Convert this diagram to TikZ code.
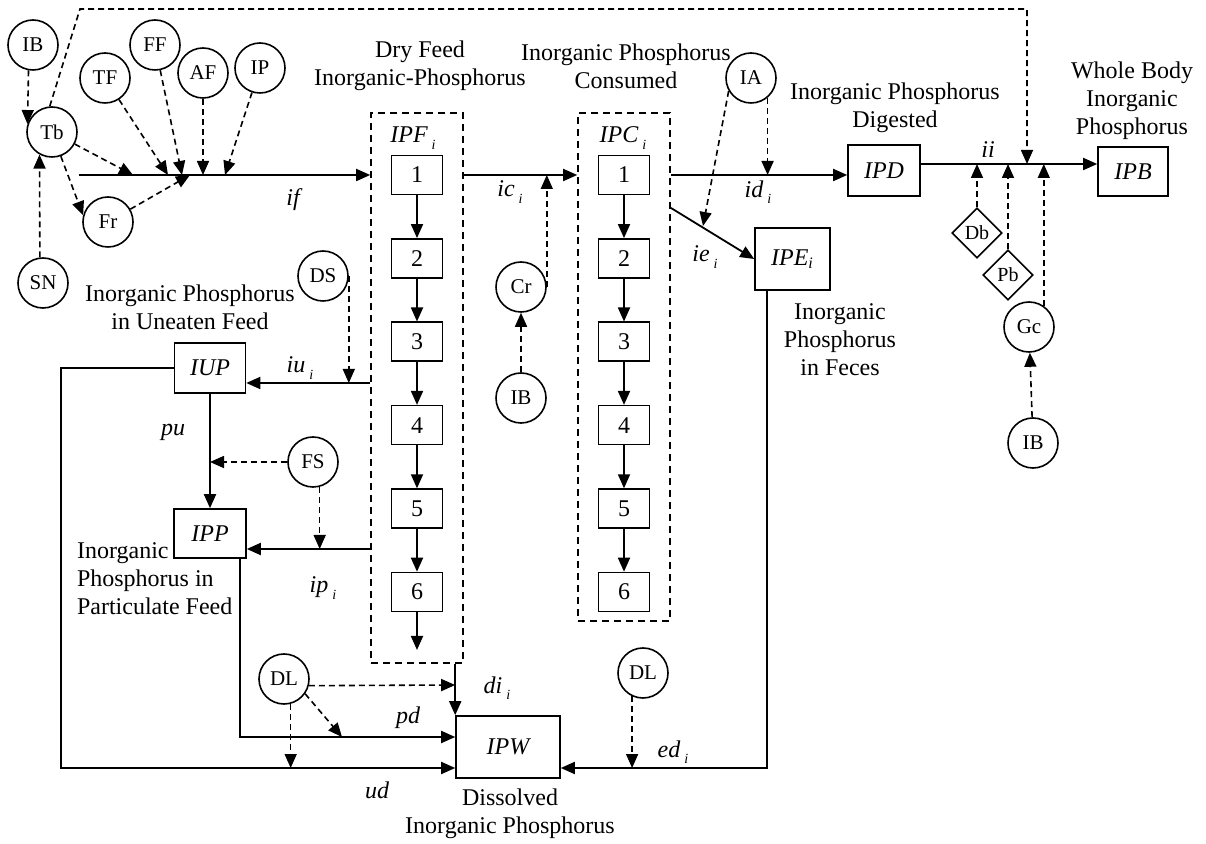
\documentclass[tikz,border=0pt]{standalone}
\usepackage{fontspec}
\setmainfont{Liberation Serif}
\usetikzlibrary{arrows.meta,shapes.geometric,calc}
\newcommand{\flowi}[1]{\textit{#1}\,\raisebox{-0.6ex}{\scriptsize\itshape i}}
\tikzset{
  var/.style={circle,draw,line width=0.8pt,minimum size=25pt,inner sep=0pt,font=\fontsize{10.5}{12}\selectfont},
  gate/.style={diamond,draw,line width=0.8pt,minimum size=25pt,inner sep=0pt,font=\fontsize{10}{12}\selectfont},
  pool/.style={rectangle,draw,line width=0.8pt,inner sep=0pt,font=\fontsize{12}{14}\selectfont\itshape},
  cell/.style={rectangle,draw,line width=0.8pt,minimum width=25.5pt,minimum height=19.5pt,inner sep=0pt},
  group/.style={rectangle,draw,line width=0.8pt,minimum width=46pt,dash pattern=on 3.5pt off 2.5pt},
  flow/.style={->,line width=0.9pt},
  ctrl/.style={->,line width=0.8pt,dash pattern=on 3pt off 2pt},
  lbl/.style={font=\fontsize{12}{14}\selectfont\itshape},
  note/.style={align=center,font=\fontsize{12}{14}\selectfont}
}
\begin{document}
\begin{tikzpicture}[x=0.5pt,y=-0.5pt,>={Triangle[length=7pt,width=6pt]},font=\fontsize{12}{14}\selectfont]
\useasboundingbox (0,0) rectangle (1206,844);
%compartments
\node[group,minimum height=275pt] (IPFbox) at (417,388) {};
\node[group,minimum height=254pt] (IPCbox) at (624,367) {};
\node[lbl] (IPFlbl) at (413,138) {\flowi{IPF}};
\node[lbl] (IPClbl) at (623,138) {\flowi{IPC}};
\foreach \k in {1,...,6}{
  \node[cell] (F\k) at (417,{175+83.4*(\k-1)}) {\k};
  \node[cell] (C\k) at (624,{175+83.4*(\k-1)}) {\k};
}
\foreach \k [count=\j from 2] in {1,...,5}{
  \draw[flow] (F\k.south) -- (F\j.north);
  \draw[flow] (C\k.south) -- (C\j.north);
}
\coordinate (dryE) at (417,650);
\draw[flow] (F6.south) -- (dryE);
%pools
\node[pool,minimum width=35.5pt,minimum height=25pt] (IUP) at (210,368) {IUP};
\node[pool,minimum width=36pt,minimum height=24.5pt] (IPP) at (210,533.5) {IPP};
\node[pool,minimum width=36pt,minimum height=25.5pt] (IPD) at (884,170.5) {IPD};
\node[pool,minimum width=35pt,minimum height=24.5pt] (IPB) at (1133,171.5) {IPB};
\node[pool,minimum width=37.5pt,minimum height=31pt] (IPE) at (792.5,259) {IPE\textsubscript{i}};
\node[pool,minimum width=52pt,minimum height=31pt] (IPW) at (508,747) {IPW};
%driving variables
\node[var] (IBa) at (33,45) {IB};
\node[var] (Tb) at (52,132) {Tb};
\node[var] (TF) at (105,78) {TF};
\node[var] (FF) at (155,45) {FF};
\node[var] (AF) at (203,73) {AF};
\node[var] (IP) at (260,68) {IP};
\node[var] (Fr) at (108,222) {Fr};
\node[var] (SN) at (43,283) {SN};
\node[var] (DS) at (323,276) {DS};
\node[var] (FS) at (313,462) {FS};
\node[var] (DLa) at (284,679) {DL};
\node[var] (Cr) at (521,287) {Cr};
\node[var] (IBb) at (521,398) {IB};
\node[var] (IA) at (751,78) {IA};
\node[var] (DLb) at (643,673) {DL};
\node[gate] (Db) at (977,233) {Db};
\node[gate] (Pb) at (1008,275) {Pb};
\node[var] (Gc) at (1029,327) {Gc};
\node[var] (IBc) at (1033,443) {IB};
%junctions
\coordinate (ifS) at (79,175);
\coordinate (jTb) at (133,175);
\coordinate (jTF) at (168,175);
\coordinate (jFF) at (182,175);
\coordinate (jFr) at (190,175);
\coordinate (jAF) at (203,175);
\coordinate (jIP) at (225,175);
\coordinate (fbA) at (80,9);
\coordinate (fbB) at (1027,9);
\coordinate (jfb) at (1027,164);
\coordinate (ieS) at (671,208);
\coordinate (jie) at (703,226);
\coordinate (iuS) at (IPFbox.west |- 0,383);
\coordinate (ipS) at (IPFbox.west |- 0,549);
\coordinate (udC) at (61,768);
\coordinate (udE) at (IPW.west |- udC);
\coordinate (pdE) at (IPW.west |- 0,737);
\coordinate (jpd) at (342,737);
\coordinate (diE) at (IPW.west |- 0,685);
\coordinate (edE) at (IPW.east |- udC);
%flows
\draw[flow] (ifS) -- (IPFbox.west |- ifS);
\draw[flow] (IPFbox.east |- F1) -- (IPCbox.west |- C1);
\draw[flow] (IPCbox.east |- C1) -- (IPD.west |- C1);
\draw[flow] (ieS) -- (IPE.west);
\draw[flow] (IPD.east |- jfb) -- (IPB.west |- jfb);
\draw[flow] (iuS) -- (IUP.east |- iuS);
\draw[flow] (ipS) -- (IPP.east |- ipS);
\draw[flow] (IUP.south) -- (IPP.north);
\draw[flow] (IUP.west) -| (udC) -- (udE);
\draw[flow] (IPP.320) |- (pdE);
\draw[flow] (IPFbox.south -| IPW.north west) -- (IPW.north west);
\draw[flow] (IPE.231) |- (edE);
%controls
\draw[ctrl] (IBa.260) -- (Tb.162);
\draw[ctrl] (SN.97) -- (Tb.241);
\draw[ctrl] (Tb) -- (jTb);
\draw[ctrl] (Tb.290) -- (Fr.165);
\draw[ctrl] (TF) -- (jTF);
\draw[ctrl] (FF) -- (jFF);
\draw[ctrl] (AF) -- (jAF);
\draw[ctrl] (IP) -- (jIP);
\draw[ctrl] (Fr) -- (jFr);
\draw[ctrl] (Tb.95) -- (fbA) -- (fbB) -- (jfb);
\draw[ctrl] (Cr.east) -- (Cr.east |- F1);
\draw[ctrl] (IBb) -- (Cr);
\draw[ctrl] (IA.310) -- (IA.310 |- C1);
\draw[ctrl] (IA.210) -- (jie);
\draw[ctrl] (Db.north) -- (Db.north |- jfb);
\draw[ctrl] (Pb.north) -- (Pb.north |- jfb);
\draw[ctrl] (Gc.55) -- (Gc.55 |- jfb);
\draw[ctrl] (IBc) -- (Gc);
\draw[ctrl] (DS.east) -- (DS.east |- iuS);
\draw[ctrl] (FS.west) -- (IUP.south |- FS.west);
\draw[ctrl] (FS.285) -- (FS.285 |- ipS);
\draw[ctrl] (DLa.345) -- (diE);
\draw[ctrl] (DLa.325) -- (jpd);
\draw[ctrl] (DLa.285) -- (DLa.285 |- udC);
\draw[ctrl] (DLb.245) -- (DLb.245 |- edE);
%flow labels
\node[lbl] (ifL) at (293,200) {if};
\node[lbl] (icL) at (510,192) {\flowi{ic}};
\node[lbl] (idL) at (758,192) {\flowi{id}};
\node[lbl] (ieL) at (705,257) {\flowi{ie}};
\node[lbl] (iiL) at (988,150) {ii};
\node[lbl] (iuL) at (300,368) {\flowi{iu}};
\node[lbl] (puL) at (173,432) {pu};
\node[lbl] (ipL) at (323,588) {\flowi{ip}};
\node[lbl] (pdL) at (408,718) {pd};
\node[lbl] (udL) at (377,790) {ud};
\node[lbl] (diL) at (497,688) {\flowi{di}};
\node[lbl] (edL) at (673,752) {\flowi{ed}};
%titles
\node[note] (dryT) at (420,66) {Dry Feed\\Inorganic-Phosphorus};
\node[note] (conT) at (626,66) {Inorganic Phosphorus\\Consumed};
\node[note] (digT) at (895,108) {Inorganic Phosphorus\\Digested};
\node[note] (bodT) at (1132,101) {Whole Body\\Inorganic\\Phosphorus};
\node[note] (fecT) at (840,340) {Inorganic\\Phosphorus\\in Feces};
\node[note] (uneT) at (190,307) {Inorganic Phosphorus\\in Uneaten Feed};
\node[note,align=left,anchor=west] (parT) at (70,579) {Inorganic\\Phosphorus in\\Particulate Feed};
\node[note] (disT) at (510,814) {Dissolved\\Inorganic Phosphorus};
\end{tikzpicture}
\end{document}
